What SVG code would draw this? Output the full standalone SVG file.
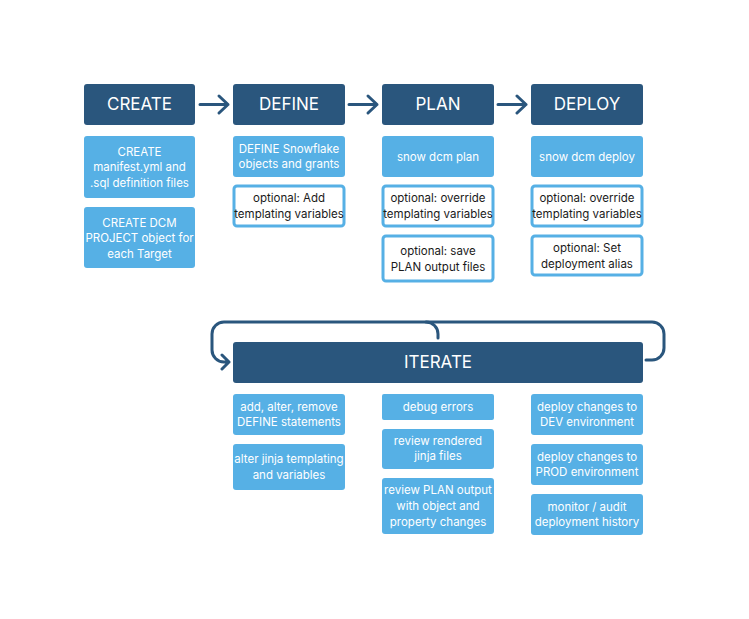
<svg xmlns="http://www.w3.org/2000/svg" width="749" height="619" viewBox="0 0 749 619">
<style>
.h{fill:#2A567D}
.f{fill:#56B0E5}
.o{fill:#fff;stroke:#56B0E5;stroke-width:3}
text{font-family:Inter,"Noto Sans",sans-serif;text-anchor:middle}
.ht{fill:#fff;font-size:17px}
.ft{fill:#fff;font-size:11.5px}
.ot{fill:#1a1a1a;font-size:11.5px}
.c{fill:none;stroke:#2A567D;stroke-width:3;stroke-linecap:round;stroke-linejoin:round}
</style>
<rect width="749" height="619" fill="#fff"/>
<g id="create"><rect class="h" x="84" y="84" width="111" height="41" rx="3"/><text class="ht" x="139.5" y="110">CREATE</text></g>
<g id="define"><rect class="h" x="233" y="84" width="112" height="41" rx="3"/><text class="ht" x="289" y="110">DEFINE</text></g>
<g id="plan"><rect class="h" x="382" y="84" width="112" height="41" rx="3"/><text class="ht" x="438" y="110">PLAN</text></g>
<g id="deploy"><rect class="h" x="531" y="84" width="112" height="41" rx="3"/><text class="ht" x="587" y="110">DEPLOY</text></g>
<g id="c1"><rect class="f" x="84" y="136" width="111" height="62" rx="3"/><text class="ft" x="139.5" y="156">CREATE</text><text class="ft" x="139.5" y="171">manifest.yml and</text><text class="ft" x="139.5" y="187">.sql definition files</text></g>
<g id="c2"><rect class="f" x="84" y="207" width="111" height="61" rx="3"/><text class="ft" x="139.5" y="227">CREATE DCM</text><text class="ft" x="139.5" y="242">PROJECT object for</text><text class="ft" x="139.5" y="258">each Target</text></g>
<g id="d1"><rect class="f" x="233" y="136" width="112" height="41" rx="3"/><text class="ft" x="289" y="153">DEFINE Snowflake</text><text class="ft" x="289" y="168">objects and grants</text></g>
<g id="d2"><rect class="o" x="234" y="186" width="110" height="40" rx="3"/><text class="ot" x="289" y="202">optional: Add</text><text class="ot" x="289" y="218">templating variables</text></g>
<g id="p1"><rect class="f" x="382" y="136" width="112" height="41" rx="3"/><text class="ft" x="438" y="161">snow dcm plan</text></g>
<g id="p2"><rect class="o" x="383" y="186" width="110" height="40" rx="3"/><text class="ot" x="438" y="202">optional: override</text><text class="ot" x="438" y="218">templating variables</text></g>
<g id="p3"><rect class="o" x="383" y="236" width="110" height="45" rx="3"/><text class="ot" x="438" y="255">optional: save</text><text class="ot" x="438" y="271">PLAN output files</text></g>
<g id="y1"><rect class="f" x="531" y="136" width="112" height="41" rx="3"/><text class="ft" x="587" y="161">snow dcm deploy</text></g>
<g id="y2"><rect class="o" x="532" y="186" width="110" height="40" rx="3"/><text class="ot" x="587" y="202">optional: override</text><text class="ot" x="587" y="218">templating variables</text></g>
<g id="y3"><rect class="o" x="532" y="236" width="110" height="39" rx="3"/><text class="ot" x="587" y="252">optional: Set</text><text class="ot" x="587" y="268">deployment alias</text></g>
<g id="iterate"><rect class="h" x="233" y="342" width="410" height="41" rx="3"/><text class="ht" x="438" y="368">ITERATE</text></g>
<g id="i1"><rect class="f" x="233" y="394" width="112" height="41" rx="3"/><text class="ft" x="289" y="411">add, alter, remove</text><text class="ft" x="289" y="426">DEFINE statements</text></g>
<g id="i2"><rect class="f" x="233" y="444" width="112" height="46" rx="3"/><text class="ft" x="289" y="463">alter jinja templating</text><text class="ft" x="289" y="479">and variables</text></g>
<g id="i3"><rect class="f" x="382" y="394" width="112" height="26" rx="2"/><text class="ft" x="438" y="411">debug errors</text></g>
<g id="i4"><rect class="f" x="382" y="429" width="112" height="40" rx="3"/><text class="ft" x="438" y="445">review rendered</text><text class="ft" x="438" y="460">jinja files</text></g>
<g id="i5"><rect class="f" x="382" y="478" width="112" height="56" rx="3"/><text class="ft" x="438" y="494">review PLAN output</text><text class="ft" x="438" y="510">with object and</text><text class="ft" x="438" y="526">property changes</text></g>
<g id="i6"><rect class="f" x="531" y="394" width="112" height="41" rx="3"/><text class="ft" x="587" y="411">deploy changes to</text><text class="ft" x="587" y="426">DEV environment</text></g>
<g id="i7"><rect class="f" x="531" y="444" width="112" height="41" rx="3"/><text class="ft" x="587" y="461">deploy changes to</text><text class="ft" x="587" y="476">PROD environment</text></g>
<g id="i8"><rect class="f" x="531" y="494" width="112" height="41" rx="3"/><text class="ft" x="587" y="511">monitor / audit</text><text class="ft" x="587" y="526">deployment history</text></g>
<g id="connectors">
<path class="c" d="M200 104.5H228M219 96l9 8.5-9 8.5"/>
<path class="c" d="M349 104.5H377M368 96l9 8.5-9 8.5"/>
<path class="c" d="M498 104.5H526M517 96l9 8.5-9 8.5"/>
<path class="c" d="M438 338v-4a12 12 0 0 0-12-12H224a12 12 0 0 0-12 12v16a12 12 0 0 0 12 12h5M222 355l7 7-7 7"/>
<path class="c" d="M426 322H652a12 12 0 0 1 12 12v14a12 12 0 0 1-12 12h-6"/>
</g>
</svg>
